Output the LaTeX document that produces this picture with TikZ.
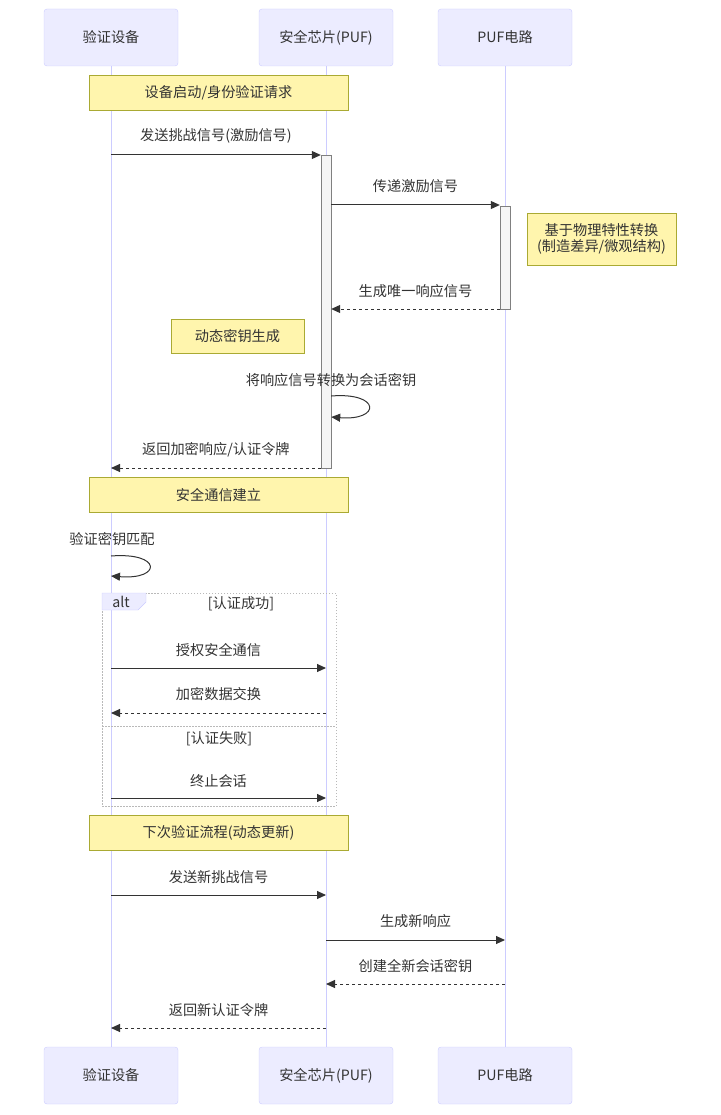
\documentclass[tikz,border=0pt]{standalone}
\usepackage{fontspec}
\setmainfont{Noto Sans CJK SC}
\usepackage{xcolor}
\usepackage{tikz}
\usetikzlibrary{arrows.meta, positioning}
\definecolor{actfill}{HTML}{ECECFF}
\definecolor{actline}{HTML}{CCCCFF}
\definecolor{notefill}{HTML}{FFF5AD}
\definecolor{noteline}{HTML}{AAAA33}
\definecolor{ink}{HTML}{333333}

\begin{document}
\begin{tikzpicture}[x=1pt, y=-1pt, font=\fontsize{14.2}{17}\selectfont, text=ink,
    actor/.style={draw=actline, fill=actfill, rounded corners=3pt, minimum width=134pt, minimum height=57pt},
    note/.style={draw=noteline, fill=notefill, minimum height=35pt, align=center},
    actbox/.style={draw=gray, fill=gray!8, minimum width=10pt},
    msg/.style={draw=ink, line width=1pt, -{Triangle[length=9pt,width=8pt]}},
    reply/.style={msg, dash pattern=on 3pt off 3pt},
    life/.style={actline, line width=0.9pt},
    frame/.style={gray!55, line width=0.7pt, dash pattern=on 1.5pt off 1.5pt}]
    \useasboundingbox (0,0) rectangle (720,1115);
    % participants
    \node[actor] (devtop) at (111,37.5) {验证设备};
    \node[actor] (chiptop) at (326,37.5) {安全芯片(PUF)};
    \node[actor] (puftop) at (505,37.5) {PUF电路};
    \node[actor] (devbot) at (111,1075.5) {验证设备};
    \node[actor] (chipbot) at (326,1075.5) {安全芯片(PUF)};
    \node[actor] (pufbot) at (505,1075.5) {PUF电路};
    \draw[life] (devtop) -- (devbot);
    \draw[life] (chiptop) -- (chipbot);
    \draw[life] (puftop) -- (pufbot);
    % activations
    \node[actbox, minimum height=313pt] (chipact) at (326,311.5) {};
    \node[actbox, minimum height=103pt] (pufact) at (505,257.5) {};
    % notes
    \node[note, minimum width=259pt] (start) at (218.5,92.5) {设备启动/身份验证请求};
    \node[note, minimum width=149pt, minimum height=52pt, font=\fontsize{14.2}{16}\selectfont] (puf note) at (601.5,239) {基于物理特性转换\\(制造差异/微观结构)};
    \node[note, minimum width=133pt, minimum height=34pt] (keygen) at (237.5,336) {动态密钥生成};
    \node[note, minimum width=259pt] (secure) at (218.5,495) {安全通信建立};
    \node[note, minimum width=259pt] (next) at (218.5,833) {下次验证流程(动态更新)};
    % messages
    \draw[msg] (devtop |- 0,155) -- node[above=8pt] {发送挑战信号(激励信号)} (chipact.west |- 0,155);
    \draw[msg] (chipact.east |- 0,205) -- node[above=8pt] {传递激励信号} (pufact.west |- 0,205);
    \draw[reply] (pufact.west |- 0,309) -- node[above=7pt] {生成唯一响应信号} (chipact.east |- 0,309);
    \node (conv) at (331,380) {将响应信号转换为会话密钥};
    \draw[msg] (chipact.east |- 0,396) .. controls (381,392) and (381,421) .. (chipact.east |- 0,417);
    \draw[reply] (chipact.west |- 0,468) -- node[above=7pt] {返回加密响应/认证令牌} (devtop |- 0,468);
    \node (match) at (112,539) {验证密钥匹配};
    \draw[msg] (devtop |- 0,556) .. controls (162,552) and (162,580) .. (devtop |- 0,576);
    % alt frame
    \draw[frame] (102,593) rectangle (336,806);
    \draw[frame] (102,726) -- (336,726);
    \draw[draw=actline, fill=actfill] (102,593) -- (146,593) -- (146,602) -- (138,610) -- (102,610) -- cycle;
    \node (alt) at (121,602) {alt};
    \node (ok) at (241,604) {[认证成功]};
    \node (fail) at (219,739) {[认证失败]};
    \draw[msg] (devtop |- 0,668) -- node[above=7pt] {授权安全通信} (chiptop |- 0,668);
    \draw[reply] (chiptop |- 0,713) -- node[above=8pt] {加密数据交换} (devtop |- 0,713);
    \draw[msg] (devtop |- 0,798) -- node[above=7pt] {终止会话} (chiptop |- 0,798);
    % next round
    \draw[msg] (devtop |- 0,895) -- node[above=7pt] {发送新挑战信号} (chiptop |- 0,895);
    \draw[msg] (chiptop |- 0,940) -- node[above=8pt] {生成新响应} (puftop |- 0,940);
    \draw[reply] (puftop |- 0,984) -- node[above=7pt] {创建全新会话密钥} (chiptop |- 0,984);
    \draw[reply] (chiptop |- 0,1028) -- node[above=7pt] {返回新认证令牌} (devtop |- 0,1028);
\end{tikzpicture}
\end{document}
